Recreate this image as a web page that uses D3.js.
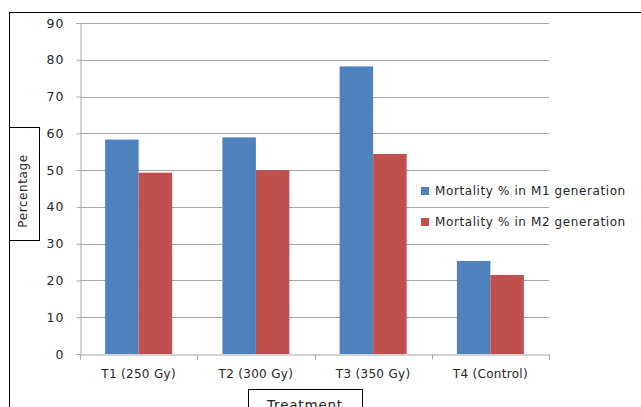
<!DOCTYPE html>
<html>
<head>
<meta charset="utf-8">
<script src="https://cdn.jsdelivr.net/npm/d3@7"></script>
<style>
  html, body { margin: 0; padding: 0; background: #fff; }
  svg { display: block; font-family: "DejaVu Sans", Verdana, sans-serif; }
</style>
</head>
<body>
<svg id="chart" width="641" height="407"></svg>
<script>
// Mortality (%) by gamma-ray treatment, M1 and M2 generations
const categories = ["T1 (250 Gy)", "T2 (300 Gy)", "T3 (350 Gy)", "T4 (Control)"];
const seriesNames = ["Mortality % in M1 generation", "Mortality % in M2 generation"];
const m1Values = [58.3, 58.9, 78.2, 25.3];
const m2Values = [49.3, 50.0, 54.4, 21.5];
const yTicks = [0, 10, 20, 30, 40, 50, 60, 70, 80, 90];
const colors = ["#4f81bd", "#c0504d"];

const FONT = 12;
const TEXT = "#262626";
const svg = d3.select("#chart");
const plot = { left: 80, right: 549, top: 23, bottom: 354 };

// outer chart frame
svg.append("rect")
  .attr("x", 9.5).attr("y", 12.5)
  .attr("width", 700).attr("height", 500)
  .attr("fill", "none").attr("stroke", "#000").attr("stroke-width", 1);

const x0 = d3.scaleBand().domain(categories).range([plot.left, plot.right]).paddingInner(0).paddingOuter(0);
const y = d3.scaleLinear().domain([0, 90]).range([plot.bottom, plot.top]);
const groupPad = (x0.bandwidth() - x0.bandwidth() / 3.5 * 2) / 2;
const x1 = d3.scaleBand().domain([0, 1]).range([groupPad, x0.bandwidth() - groupPad]);

// horizontal gridlines
svg.append("g")
  .selectAll("line")
  .data(yTicks.filter(t => t > 0))
  .join("line")
  .attr("x1", plot.left).attr("x2", plot.right)
  .attr("y1", d => Math.round(y(d)) + 0.5).attr("y2", d => Math.round(y(d)) + 0.5)
  .attr("stroke", "#a6a6a6").attr("stroke-width", 1);

// bars
const rows = categories.map((c, i) => ({ cat: c, vals: [m1Values[i], m2Values[i]] }));
svg.append("g")
  .selectAll("g")
  .data(rows)
  .join("g")
  .attr("transform", d => `translate(${x0(d.cat)},0)`)
  .selectAll("rect")
  .data(d => d.vals.map((v, k) => ({ k, v })))
  .join("rect")
  .attr("x", d => x1(d.k))
  .attr("width", x1.bandwidth())
  .attr("y", d => y(d.v))
  .attr("height", d => y(0) - y(d.v))
  .attr("fill", d => colors[d.k]);

// y axis
const yAxis = d3.axisLeft(y).tickValues(yTicks).tickSize(4).tickPadding(12);
const gy = svg.append("g").attr("transform", `translate(${plot.left + 0.5},0)`).call(yAxis);
gy.select(".domain").attr("stroke", "#a6a6a6");
gy.selectAll(".tick line").attr("stroke", "#a6a6a6");
gy.selectAll(".tick text").attr("font-size", 12.5).attr("letter-spacing", "1px")
  .attr("fill", TEXT).attr("font-family", "DejaVu Sans, sans-serif");

// x axis
const xAxis = d3.axisBottom(x0).tickSize(0).tickPadding(15);
const gx = svg.append("g").attr("transform", `translate(0,${plot.bottom + 0.5})`).call(xAxis);
gx.select(".domain").attr("stroke", "#a6a6a6");
gx.selectAll(".tick text").attr("font-size", FONT).attr("letter-spacing", "0.3px")
  .attr("fill", TEXT).attr("font-family", "DejaVu Sans, sans-serif");
// tick marks at category boundaries
gx.append("g").selectAll("line")
  .data(categories.map(c => x0(c)).concat([plot.right]))
  .join("line")
  .attr("x1", d => Math.round(d) + 0.5).attr("x2", d => Math.round(d) + 0.5)
  .attr("y1", 0).attr("y2", 5)
  .attr("stroke", "#a6a6a6");

// legend
const legend = svg.append("g").attr("transform", "translate(421,191)");
seriesNames.forEach((name, i) => {
  const g = legend.append("g").attr("transform", `translate(0,${i * 31})`);
  g.append("rect").attr("x", 0).attr("y", -4).attr("width", 8).attr("height", 8).attr("fill", colors[i]);
  g.append("text").attr("x", 14).attr("y", 0).attr("dy", "0.35em")
    .attr("font-size", FONT).attr("letter-spacing", "0.6px")
    .attr("fill", TEXT).text(name);
});

// y axis title in a box
svg.append("rect").attr("x", 9.5).attr("y", 127.5).attr("width", 30).attr("height", 113)
  .attr("fill", "#fff").attr("stroke", "#000");
svg.append("text")
  .attr("transform", "translate(27,191) rotate(-90)")
  .attr("text-anchor", "middle")
  .attr("font-size", FONT).attr("letter-spacing", "0.6px").attr("fill", TEXT)
  .text("Percentage");

// x axis title in a box
svg.append("rect").attr("x", 248.5).attr("y", 389.5).attr("width", 114).attr("height", 40)
  .attr("fill", "#fff").attr("stroke", "#000");
svg.append("text")
  .attr("x", 305).attr("y", 410)
  .attr("text-anchor", "middle")
  .attr("font-size", 13.5).attr("letter-spacing", "0.8px").attr("fill", TEXT)
  .text("Treatment");
</script>
</body>
</html>
